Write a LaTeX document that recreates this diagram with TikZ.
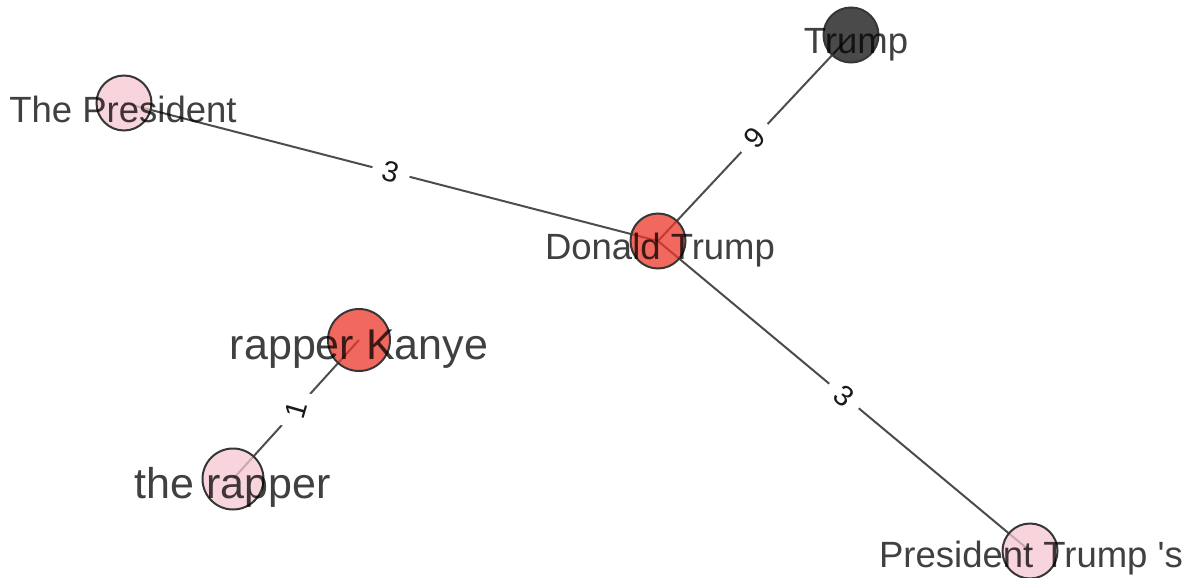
\documentclass[tikz,border=0pt]{standalone}
\usepackage{fontspec}
\setmainfont{Liberation Sans}
\usetikzlibrary{calc}
\pgfdeclarelayer{edges}
\pgfsetlayers{edges,main}
\definecolor{edgecol}{HTML}{4D4D4D}
\definecolor{ring}{HTML}{363636}
\definecolor{pinkfill}{HTML}{F6C6D0}
\definecolor{redfill}{HTML}{EB3628}
\definecolor{darkfill}{HTML}{000000}
\tikzset{
  vert/.style={circle, draw=ring, line width=2pt, fill opacity=0.75, inner sep=0pt, minimum size=55pt},
  pinkv/.style={vert, fill=pinkfill},
  redv/.style={vert, fill=redfill},
  darkv/.style={vert, fill=darkfill, fill opacity=0.71},
  vlabel/.style={anchor=base, inner sep=0pt, text=black, text opacity=0.75, font=\fontsize{36.5}{40}\selectfont},
  bigvlabel/.style={vlabel, font=\fontsize{43}{46}\selectfont},
  link/.style={draw=edgecol, line width=2pt},
  weight/.style={midway, fill=white, inner xsep=11pt, inner ysep=1pt, text=black!90, font=\fontsize{29}{31}\selectfont}
}
\begin{document}
\begin{tikzpicture}[x=1pt, y=-1pt]
\useasboundingbox (0,0) rectangle (1192,578);

% vertices
\node[darkv] (trump) at (851,35) {};
\node[pinkv] (pres) at (124,103) {};
\node[redv] (donald) at (658,241) {};
\node[redv, minimum size=62pt] (kanye) at (359,340) {};
\node[pinkv, minimum size=61pt] (rapper) at (233,479) {};
\node[pinkv] (ptrump) at (1030,551) {};

% weighted links, kept under the vertices
\begin{pgfonlayer}{edges}
\draw[link] (pres.center) -- node[weight, rotate=-14.5] {3} (donald.center);
\draw[link] (donald.center) -- node[weight, rotate=47] {9} (trump.center);
\draw[link] (donald.center) -- node[weight, rotate=-40] {3} (ptrump.center);
\draw[link] (rapper.center) -- node[weight, rotate=74] {1} (kanye.center);
\end{pgfonlayer}

% vertex names
\node[vlabel] (trumpname) at ($(trump.center)+(5,19)$) {Trump};
\node[vlabel] (presname) at ($(pres.center)+(-1,19)$) {The President};
\node[vlabel] (donaldname) at ($(donald.center)+(2,18)$) {Donald Trump};
\node[bigvlabel] (kanyename) at ($(kanye.center)+(0,19)$) {rapper Kanye};
\node[bigvlabel] (rappername) at ($(rapper.center)+(0,19)$) {the rapper};
\node[vlabel] (ptrumpname) at ($(ptrump.center)+(1,16)$) {President Trump \textquotesingle s};
\end{tikzpicture}
\end{document}
